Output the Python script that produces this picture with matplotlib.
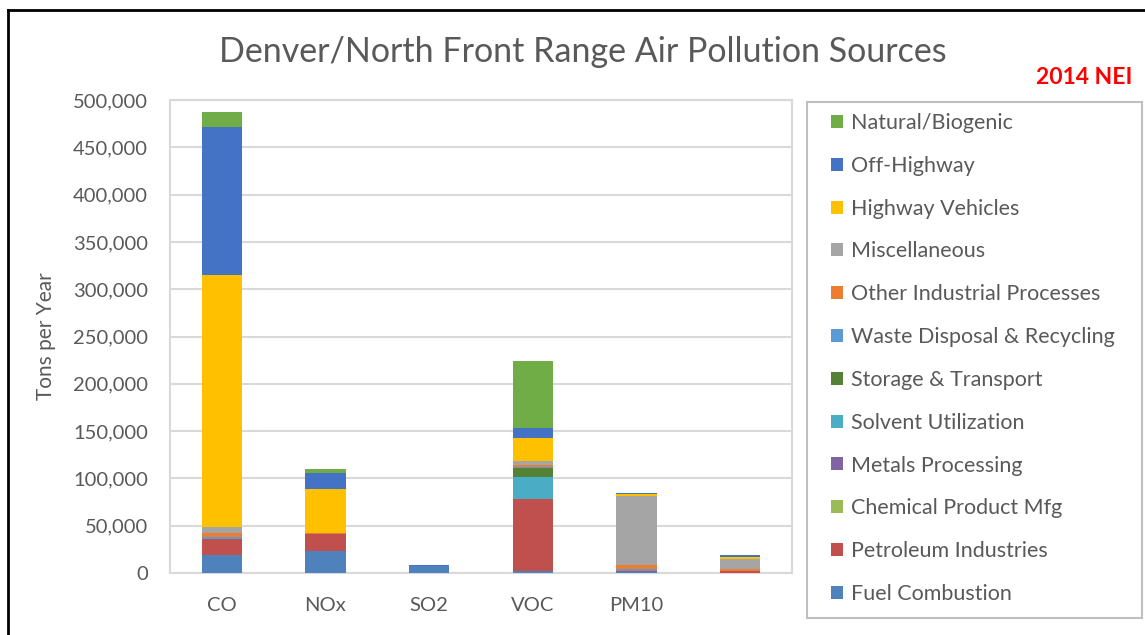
import matplotlib.pyplot as plt
from matplotlib.lines import Line2D
from matplotlib.patches import Rectangle
from matplotlib.ticker import FuncFormatter
import numpy as np

plt.rcParams['font.family'] = ['Lato', 'DejaVu Sans']

# pollutants on the x axis (last bar has no label in the source)
pollutants = ['CO', 'NOx', 'SO2', 'VOC', 'PM10', '']

# source categories, stacked bottom -> top
sources = ['Fuel Combustion', 'Petroleum Industries', 'Chemical Product Mfg',
           'Metals Processing', 'Solvent Utilization', 'Storage & Transport',
           'Waste Disposal & Recycling', 'Other Industrial Processes',
           'Miscellaneous', 'Highway Vehicles', 'Off-Highway', 'Natural/Biogenic']

colors = ['#4F81BD', '#C0504D', '#9BBB59', '#8064A2', '#4BACC6', '#548235',
          '#5B9BD5', '#ED7D31', '#A5A5A5', '#FFC000', '#4472C4', '#70AD47']

# tons per year (CO, NOx, SO2, VOC, PM10, PM2.5)
fuel_combustion = [19000, 23000, 7500, 2000, 1000, 500]
petroleum = [16500, 18000, 0, 76000, 1500, 1500]
chemical = [0, 0, 0, 500, 0, 0]
metals = [500, 0, 0, 0, 0, 0]
solvent = [0, 0, 0, 23500, 0, 0]
storage = [0, 0, 0, 8500, 0, 0]
waste = [2000, 0, 0, 2000, 1500, 500]
other_industrial = [4000, 1500, 0, 2000, 4000, 1500]
misc = [6500, 0, 0, 3500, 73000, 11000]
highway = [266500, 46000, 0, 25000, 2000, 1800]
off_highway = [156500, 17500, 1000, 10500, 2000, 2000]
natural = [15500, 4000, 0, 71000, 0, 0]

series = [fuel_combustion, petroleum, chemical, metals, solvent, storage,
          waste, other_industrial, misc, highway, off_highway, natural]

text_color = '#595959'
grid_color = '#D9D9D9'
W, H = 1145, 635

fig = plt.figure(figsize=(11.45, 6.35), dpi=100)
ax = fig.add_axes([170 / W, 62 / H, 622 / W, 473 / H])

x = np.arange(len(pollutants))
bottom = np.zeros(len(pollutants))
handles = []
for name, vals, col in zip(sources, series, colors):
    vals = np.array(vals, dtype=float)
    b = ax.bar(x, vals, width=0.39, bottom=bottom, color=col, label=name,
               zorder=3, linewidth=0)
    handles.append(b)
    bottom += vals

ax.set_xlim(-0.5, len(pollutants) - 0.5)
ax.set_ylim(0, 500000)
ax.set_yticks(np.arange(0, 500001, 50000))
ax.yaxis.set_major_formatter(FuncFormatter(lambda v, p: f'{int(v):,}'))
ax.set_xticks(x)
ax.set_xticklabels(pollutants)
ax.tick_params(axis='both', length=0, colors=text_color, labelsize=14.5)
ax.tick_params(axis='x', pad=17)
ax.tick_params(axis='y', pad=16)
ax.grid(axis='y', color=grid_color, linewidth=1.5, zorder=0)
for sp in ax.spines.values():
    sp.set_color(grid_color)
    sp.set_linewidth(1.5)

ax.set_ylabel('Tons per Year', color=text_color, fontsize=15, labelpad=12)

fig.text(0.509, 1 - 52 / H, 'Denver/North Front Range Air Pollution Sources',
         ha='center', va='center', fontsize=24.5, color=text_color)
fig.text(1084 / W, 1 - 77 / H, '2014 NEI', ha='center', va='center',
         fontsize=16.5, fontweight='bold', color='#FF0000')

# legend box drawn separately so its size matches the source
fig.add_artist(Rectangle((807 / W, 1 - 618 / H), 335 / W, 516 / H,
                         transform=fig.transFigure, facecolor='white',
                         edgecolor='#BFBFBF', linewidth=1.5, zorder=1))
leg = fig.legend(handles[::-1], sources[::-1], loc='upper left',
                 bbox_to_anchor=(831 / W, 1 - 113 / H),
                 frameon=False, fontsize=15.5,
                 labelcolor=text_color, handlelength=0.55, handleheight=0.55,
                 handletextpad=0.4, labelspacing=1.06, borderpad=0,
                 borderaxespad=0, ncol=1)
leg.set_zorder(2)

# outer black frame along top and left edges
fig.add_artist(Line2D([8 / W, 1], [1 - 10 / H, 1 - 10 / H],
                      transform=fig.transFigure, color='black', linewidth=2))
fig.add_artist(Line2D([8 / W, 8 / W], [0, 1 - 10 / H],
                      transform=fig.transFigure, color='black', linewidth=2))

fig.savefig('out.png', dpi=100)
